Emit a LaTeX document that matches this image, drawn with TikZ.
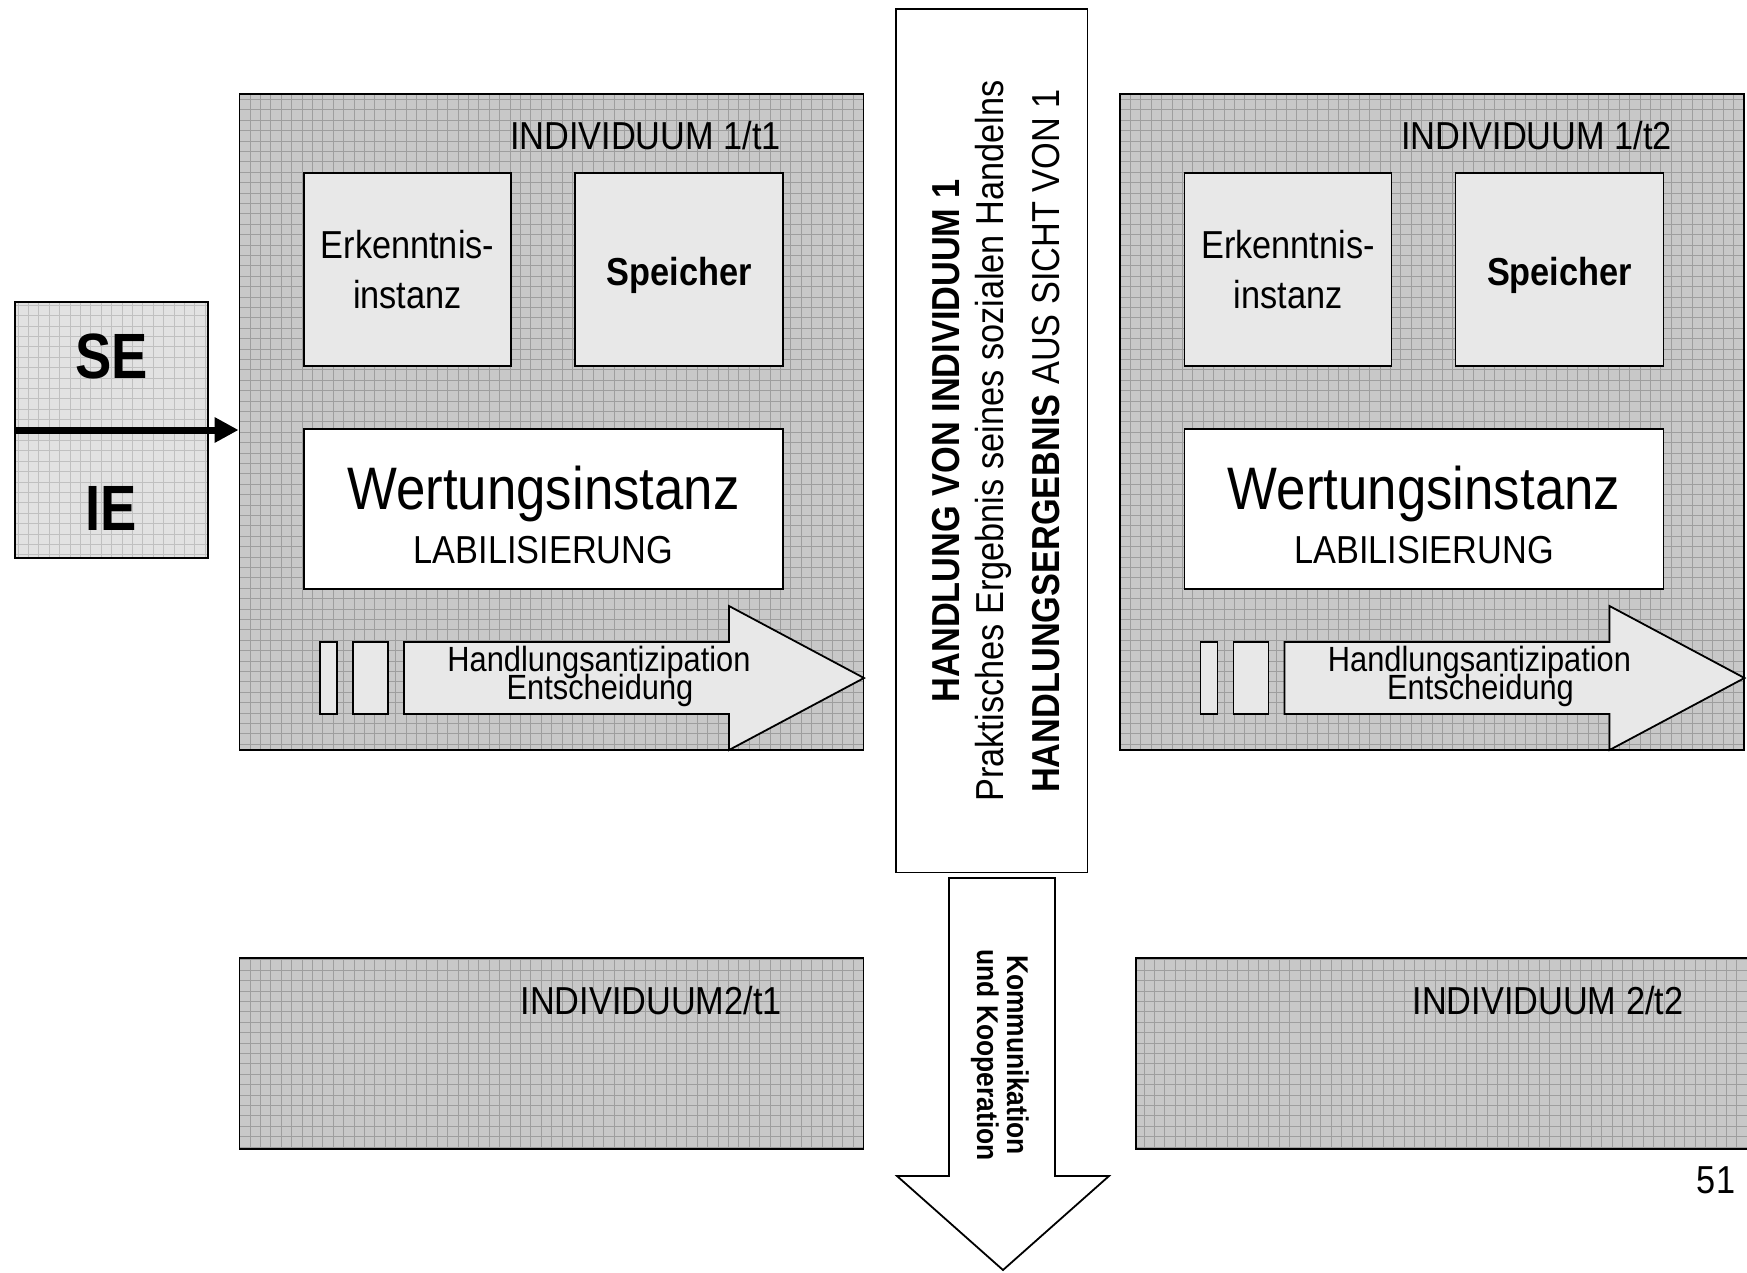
\documentclass[tikz,border=0pt]{standalone}
\usepackage{fontspec}
\setmainfont{Liberation Sans}
\newfontfamily\nf[FakeStretch=0.88]{Liberation Sans}
\newfontfamily\sef[FakeStretch=0.85]{Liberation Sans}
\usetikzlibrary{arrows.meta}
\definecolor{boxfill}{RGB}{200,200,200}
\definecolor{boxgrid}{RGB}{158,158,158}
\definecolor{sefill}{RGB}{226,226,226}
\definecolor{segrid}{RGB}{192,192,192}
\definecolor{lightfill}{RGB}{232,232,232}
\newcommand\myfs[2]{\fontsize{#1}{#2}\selectfont}

\newcommand\indblock[3]{%
  \node[gridbox={boxfill}{boxgrid}, minimum width=624pt, minimum height=656.4pt] (#1box) at (551.5,421.8) {};
  \node[txt, anchor=base east] (#1title) at (#3,149) {#2};
  \node[lightbox, minimum width=207pt, minimum height=193pt, align=center, font=\nf\myfs{39}{50}] (#1erk) at (407.5,269.5) {Erkenntnis-\\instanz};
  \node[lightbox, minimum width=208pt, minimum height=193pt] (#1sp) at (679,269.5) {};
  \node[txt, anchor=base, font=\nf\bfseries\myfs{39}{50}] (#1spt) at (679,285) {Speicher};
  \node[whitebox, minimum width=479pt, minimum height=160pt] (#1wert) at (543.5,509) {};
  \node[txt, anchor=base, font=\nf\myfs{60}{60}] (#1wt) at (543.5,509) {Wertungsinstanz};
  \node[txt, anchor=base] (#1wl) at (543.5,563.5) {LABILISIERUNG};
  \node[lightbox, minimum width=17pt, minimum height=72pt] (#1ra) at (328.5,678) {};
  \node[lightbox, minimum width=35pt, minimum height=72pt] (#1rb) at (370.5,678) {};
  \draw[border, fill=lightfill] (404,642) -- (729,642) -- (729,606) -- (864,678) -- (729,750) -- (729,714) -- (404,714) -- cycle;
  \node[txt, anchor=base, font=\nf\myfs{35}{28}] (#1ha) at (599,671.6) {Handlungsantizipation};
  \node[txt, anchor=base, font=\nf\myfs{35}{28}] (#1hb) at (600,699.8) {Entscheidung};
}

\begin{document}
\begin{tikzpicture}[x=1pt,y=-1pt,
  border/.style={draw=black, line width=1.8pt},
  gridbox/.style 2 args={border, fill=#1, inner sep=0pt,
    path picture={\draw[#2, line width=0.8pt, step=10.4pt]
      (path picture bounding box.south west) grid (path picture bounding box.north east);}},
  lightbox/.style={border, fill=lightfill, inner sep=0pt},
  whitebox/.style={border, fill=white, inner sep=0pt},
  txt/.style={inner sep=0pt, font=\nf\myfs{39}{50}},
  rottxt/.style={inner sep=0pt, anchor=base, rotate=90},
]
\useasboundingbox (0,0) rectangle (1747,1272);
\clip (0,0) rectangle (1747,1272);

% upper individual blocks
\indblock{a}{INDIVIDUUM 1/t1}{781}
\begin{scope}[xshift=880.5pt]
  \indblock{b}{INDIVIDUUM 1/t2}{791.5}
\end{scope}

% lower blocks
\node[gridbox={boxfill}{boxgrid}, minimum width=624pt, minimum height=190.7pt] (i2t1) at (551.5,1053.3) {};
\node[txt, anchor=base east] (i2t1t) at (782,1014) {INDIVIDUUM2/t1};
\node[gridbox={boxfill}{boxgrid}, minimum width=640pt, minimum height=190.7pt] (i2t2) at (1456,1053.3) {};
\node[txt, anchor=base east] (i2t2t) at (1683.5,1014) {INDIVIDUUM 2/t2};

% SE / IE
\node[gridbox={sefill}{segrid}, minimum width=193pt, minimum height=256pt] (seie) at (111.5,430) {};
\node[anchor=base, inner sep=0pt, font=\sef\bfseries\myfs{64}{64}] (se) at (111.5,378) {SE};
\node[anchor=base, inner sep=0pt, font=\sef\bfseries\myfs{64}{64}] (ie) at (111.5,530) {IE};
\draw[line width=7pt, -{Triangle[length=24pt,width=24pt]}] (seie.west) -- (seie.west -| abox.west);

% central action box
\node[whitebox, minimum width=191.5pt, minimum height=863.4pt] (act) at (991.7,440.7) {};
\node[rottxt, font=\nf\bfseries\myfs{39}{39}] (act1) at (959,441) {HANDLUNG VON INDIVIDUUM 1};
\node[rottxt, font=\nf\myfs{39}{39}] (act2) at (1003,441) {Praktisches Ergebnis seines sozialen Handelns};
\node[rottxt, font=\nf\myfs{39}{39}] (act3) at (1059,441) {{\bfseries HANDLUNGSERGEBNIS} AUS SICHT VON 1};

% down arrow
\draw[border, fill=white] (949,878) -- (1055,878) -- (1055,1176) -- (1109,1176) -- (1003,1270) -- (897,1176) -- (949,1176) -- cycle;
\node[anchor=base, rotate=-90, inner sep=0pt, font=\nf\bfseries\myfs{30}{30}] (k1) at (1007,1055) {Kommunikation};
\node[anchor=base, rotate=-90, inner sep=0pt, font=\nf\bfseries\myfs{30}{30}] (k2) at (977,1055) {und Kooperation};

% page number
\node[txt, anchor=base] (pg) at (1716,1193) {51};
\end{tikzpicture}
\end{document}
